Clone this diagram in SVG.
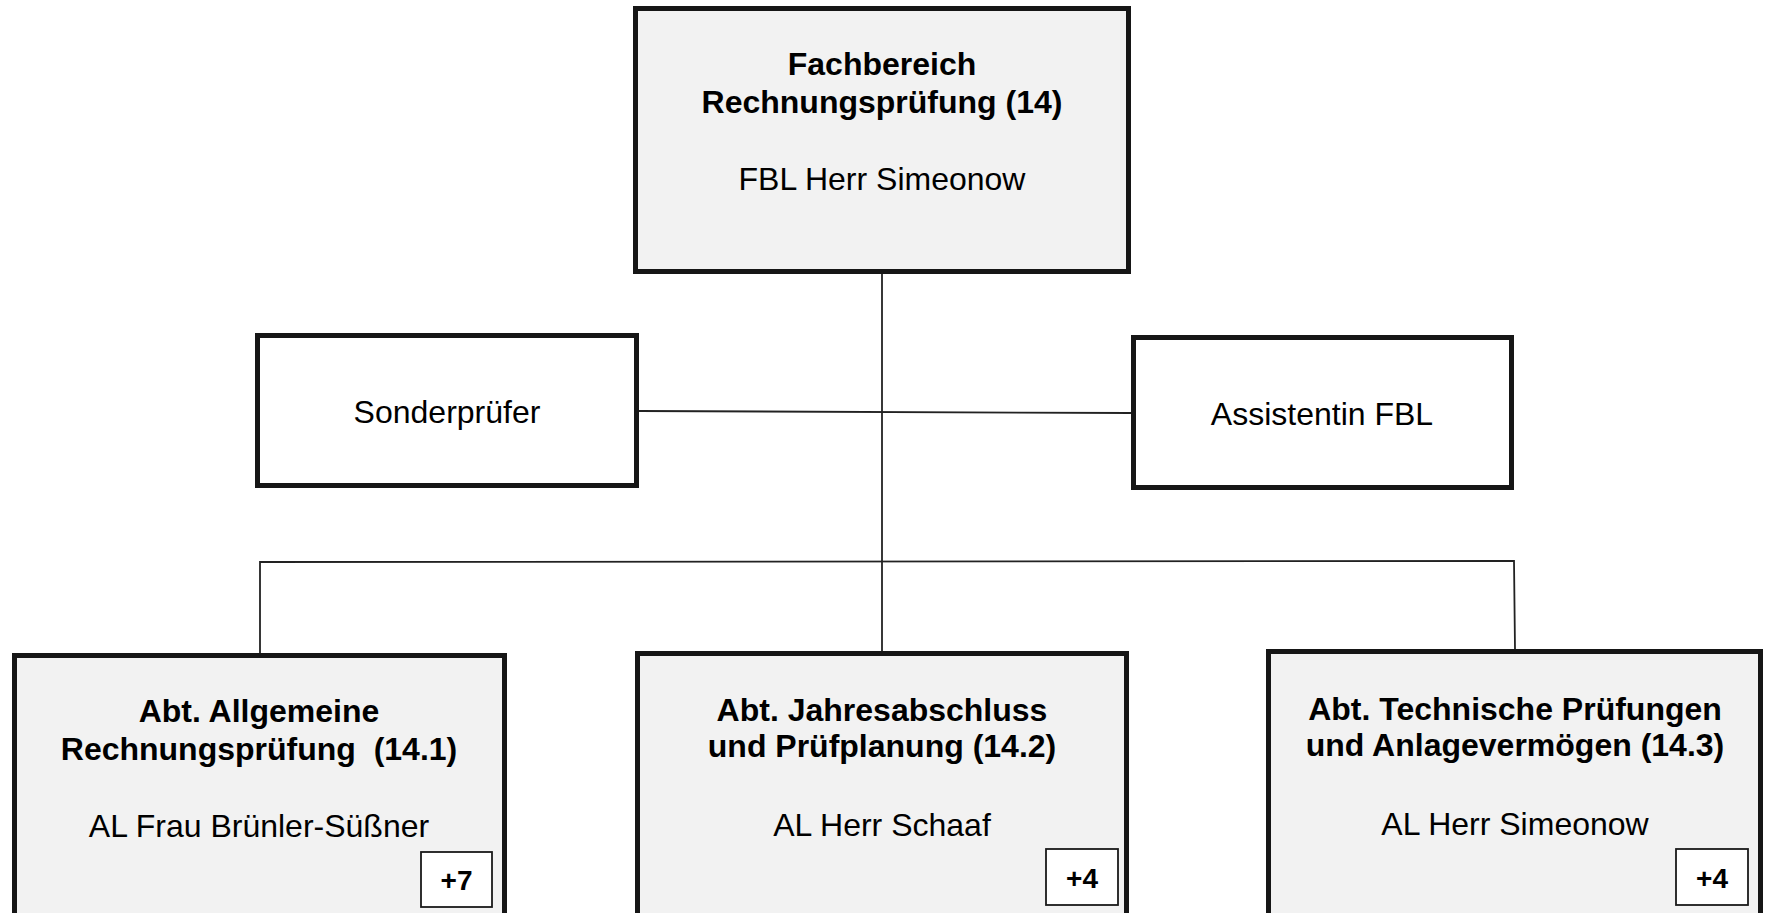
<svg xmlns="http://www.w3.org/2000/svg" width="1767" height="913" viewBox="0 0 1767 913">
<style>
.box{stroke:#161616;stroke-width:5}
.grey{fill:#f2f2f2}
.white{fill:#ffffff}
.tag{fill:#ffffff;stroke:#1a1a1a;stroke-width:1.8}
.conn{stroke:#222;stroke-width:1.8;fill:none}
text{font-family:"Liberation Sans",Arial,sans-serif;font-size:32px;fill:#000;text-anchor:middle}
.b{font-weight:bold}
.tg{font-weight:bold;font-size:28px}
</style>
<rect width="1767" height="913" fill="#ffffff"/>
<g id="connectors">
<line class="conn" x1="882" y1="274" x2="882" y2="652"/>
<line class="conn" x1="639" y1="411" x2="1131" y2="413"/>
<polyline class="conn" points="260,653 260,562 1514,561 1515,649"/>
</g>
<g id="fachbereich">
<rect class="box grey" x="635.5" y="8.5" width="493" height="263"/>
<text class="b" x="882" y="75">Fachbereich</text>
<text class="b" x="882" y="113">Rechnungsprüfung (14)</text>
<text x="882" y="190">FBL Herr Simeonow</text>
</g>
<g id="sonderpruefer">
<rect class="box white" x="257.5" y="335.5" width="379" height="150"/>
<text x="447" y="423">Sonderprüfer</text>
</g>
<g id="assistentin">
<rect class="box white" x="1133.5" y="337.5" width="378" height="150"/>
<text x="1322" y="425">Assistentin FBL</text>
</g>
<g id="abt141">
<rect class="box grey" x="14.5" y="655.5" width="490" height="280"/>
<text class="b" x="259" y="722">Abt. Allgemeine</text>
<text class="b" x="259" y="760" xml:space="preserve">Rechnungsprüfung  (14.1)</text>
<text x="259" y="837">AL Frau Brünler-Süßner</text>
<rect class="tag" x="421" y="852" width="71" height="55"/>
<text class="tg" x="456.5" y="890">+7</text>
</g>
<g id="abt142">
<rect class="box grey" x="637.5" y="653.5" width="489" height="280"/>
<text class="b" x="882" y="721">Abt. Jahresabschluss</text>
<text class="b" x="882" y="757">und Prüfplanung (14.2)</text>
<text x="882" y="836">AL Herr Schaaf</text>
<rect class="tag" x="1046" y="849" width="72" height="56"/>
<text class="tg" x="1082" y="888">+4</text>
</g>
<g id="abt143">
<rect class="box grey" x="1268.5" y="651.5" width="492" height="280"/>
<text class="b" x="1515" y="720">Abt. Technische Prüfungen</text>
<text class="b" x="1515" y="756">und Anlagevermögen (14.3)</text>
<text x="1515" y="835">AL Herr Simeonow</text>
<rect class="tag" x="1676" y="849" width="72" height="56"/>
<text class="tg" x="1712" y="888">+4</text>
</g>
</svg>
